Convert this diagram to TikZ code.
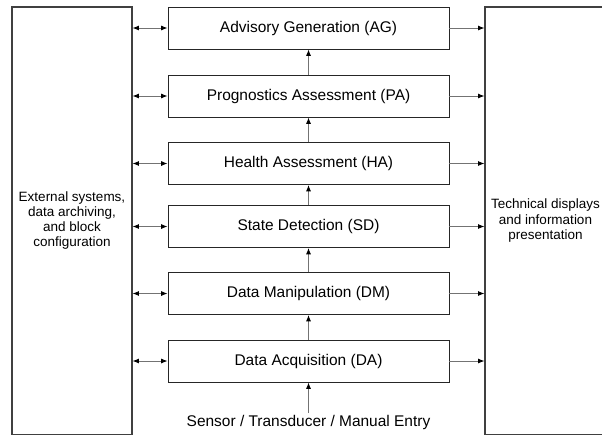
\documentclass[tikz,border=0pt]{standalone}
\usepackage{fontspec}
\setmainfont{Liberation Sans}
\usetikzlibrary{positioning, arrows.meta}

\begin{document}
\begin{tikzpicture}[x=0.025cm, y=-0.025cm, >={Latex[length=4.5pt,width=3.5pt,color=black]},
    blok/.style={draw=black!85, line width=0.6pt, minimum width=7.025cm,
        minimum height=1.05cm, inner sep=0pt, font=\fontsize{11}{13}\selectfont},
    sidebox/.style={draw=black!75, line width=0.8pt, minimum height=10.675cm,
        inner sep=0pt, align=center, font=\fontsize{9.6}{10.8}\selectfont},
    link/.style={draw=black!55, line width=0.6pt}]
    \useasboundingbox (0,0) rectangle (602,437);
    % 1. Hai khối bên
    \node[sidebox, minimum width=3cm] (ext) at (72,220.5)
        {External systems,\\data archiving,\\and block\\configuration};
    \node[sidebox, minimum width=3.025cm] (tech) at (545.5,220.5)
        {Technical displays\\and information\\presentation};
    % 2. Các khối giữa
    \node[blok] (ag) at (308.5,28) {Advisory Generation (AG)};
    \node[blok] (pa) at (308.5,96) {Prognostics Assessment (PA)};
    \node[blok] (ha) at (308.5,163.5) {Health Assessment (HA)};
    \node[blok] (sd) at (308.5,226.5) {State Detection (SD)};
    \node[blok] (dm) at (308.5,293.5) {Data Manipulation (DM)};
    \node[blok] (da) at (308.5,361) {Data Acquisition (DA)};
    \node[inner sep=1pt, font=\fontsize{11}{13}\selectfont] (sensor) at (308.5,422)
        {Sensor / Transducer / Manual Entry};
    % 3. Mũi tên
    \foreach \b in {ag,pa,ha,sd,dm,da} {
        \draw[link, <->] (ext.east |- \b) -- (\b.west);
        \draw[link, ->] (\b.east) -- (tech.west |- \b);
    }
    \draw[link, ->] (sensor) -- (da);
    \draw[link, ->] (da) -- (dm);
    \draw[link, ->] (dm) -- (sd);
    \draw[link, ->] (sd) -- (ha);
    \draw[link, ->] (ha) -- (pa);
    \draw[link, ->] (pa) -- (ag);
\end{tikzpicture}
\end{document}
